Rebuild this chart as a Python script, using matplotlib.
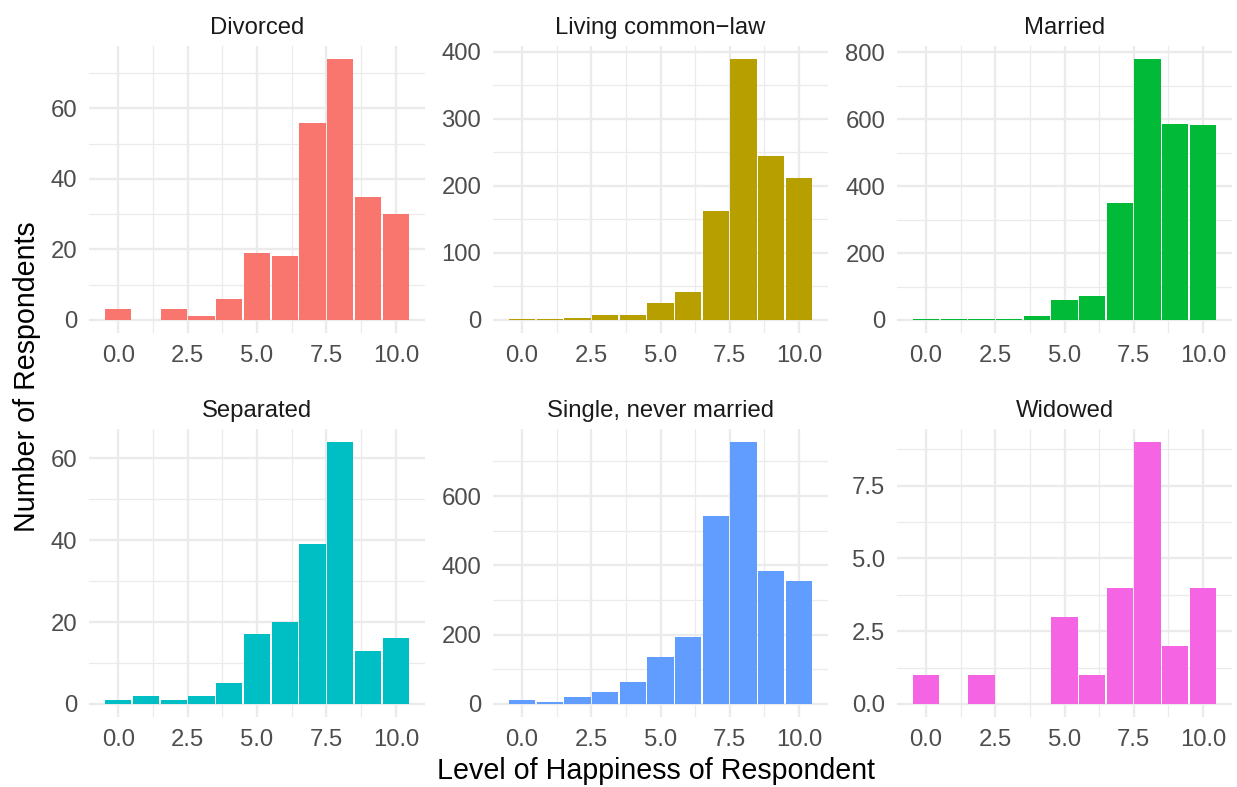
import matplotlib
matplotlib.use("Agg")
import matplotlib.pyplot as plt
from matplotlib.ticker import MultipleLocator, AutoMinorLocator, FuncFormatter

plt.rcParams['font.family'] = ['Liberation Sans', 'DejaVu Sans']

# ---- data ----
happiness = [0, 1, 2, 3, 4, 5, 6, 7, 8, 9, 10]
statuses = ["Divorced", "Living common\u2212law", "Married",
            "Separated", "Single, never married", "Widowed"]
divorced = [3, 0, 3, 1, 6, 19, 18, 56, 74, 35, 30]
common_law = [1, 1, 3, 7, 7, 26, 41, 162, 389, 245, 212]
married = [2, 2, 2, 3, 11, 59, 71, 351, 780, 587, 583]
separated = [1, 2, 1, 2, 5, 17, 20, 39, 64, 13, 16]
single = [11, 5, 19, 34, 63, 135, 193, 542, 756, 383, 354]
widowed = [1, 0, 1, 0, 0, 3, 1, 4, 9, 2, 4]
series = [divorced, common_law, married, separated, single, widowed]
colors = ["#F8766D", "#B79F00", "#00BA38", "#00BFC4", "#619CFF", "#F564E3"]
y_steps = [20, 100, 200, 20, 200, 2.5]
x_ticks = [0, 2.5, 5, 7.5, 10]

W, H = 1237, 787
fig = plt.figure(figsize=(W / 100, H / 100), dpi=100)

col_x = [(89, 425), (493, 828), (897, 1232)]
row_y = [(46, 333), (429, 717)]

grid_col = "#EBEBEB"
for i, (name, vals, col, step) in enumerate(zip(statuses, series, colors, y_steps)):
    r, c = divmod(i, 3)
    x0, x1 = col_x[c]
    y0, y1 = row_y[r]
    ax = fig.add_axes([x0 / W, 1 - y1 / H, (x1 - x0) / W, (y1 - y0) / H])
    ax.bar(happiness, vals, width=0.95, color=col, linewidth=0, zorder=3)
    ymax = max(vals)
    ax.set_xlim(-1.05, 11.05)
    ax.set_ylim(-0.05 * ymax, 1.05 * ymax)
    ax.set_xticks(x_ticks)
    ax.xaxis.set_minor_locator(AutoMinorLocator(2))
    ax.yaxis.set_major_locator(MultipleLocator(step))
    ax.yaxis.set_minor_locator(MultipleLocator(step / 2))
    ax.xaxis.set_major_formatter(FuncFormatter(lambda v, p: f"{v:.1f}"))
    if step == int(step):
        ax.yaxis.set_major_formatter(FuncFormatter(lambda v, p: f"{v:.0f}"))
    else:
        ax.yaxis.set_major_formatter(FuncFormatter(lambda v, p: f"{v:.1f}"))
    ax.grid(True, which="major", color=grid_col, linewidth=1.7, zorder=0)
    ax.grid(True, which="minor", color=grid_col, linewidth=0.9, zorder=0)
    ax.set_axisbelow(True)
    for s in ax.spines.values():
        s.set_visible(False)
    ax.tick_params(which="both", length=0, pad=8.5, labelsize=17.2,
                   labelcolor="#4D4D4D")
    ax.set_facecolor("white")
    ax.set_title(name, fontsize=17.2, color="#1A1A1A", pad=8.5)

fig.text(656 / W, 1 - 771 / H, "Level of Happiness of Respondent",
         ha="center", va="center", fontsize=20.6, color="black")
fig.text(27 / W, 1 - 377 / H, "Number of Respondents", rotation=90,
         ha="center", va="center", fontsize=20.6, color="black")

fig.savefig("out.png", dpi=100, facecolor="white")
